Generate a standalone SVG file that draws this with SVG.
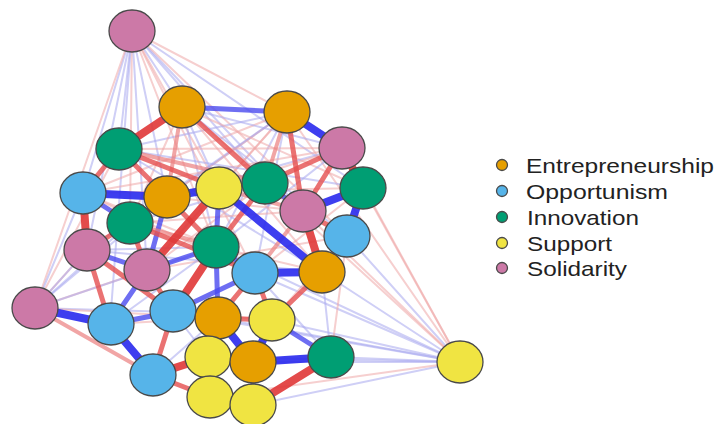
<svg xmlns="http://www.w3.org/2000/svg" width="717" height="424" viewBox="0 0 717 424">
<style>
line{stroke-linecap:round}
.p1{stroke:#f0a8a8;stroke-width:2;opacity:.55}
.b1{stroke:#a8a8f0;stroke-width:2;opacity:.55}
.p2{stroke:#ec8080;stroke-width:4;opacity:.7}
.r3{stroke:#e65050;stroke-width:5;opacity:.8}
.b3{stroke:#4a4af0;stroke-width:5;opacity:.8}
.r6{stroke:#e03838;stroke-width:8;opacity:.9}
.b6{stroke:#2a2aee;stroke-width:8;opacity:.9}
.n{stroke:#4a4a4a;stroke-width:1.3}
.E{fill:#E69F00}.O{fill:#56B4E9}.I{fill:#009E73}.S{fill:#F0E442}.L{fill:#CC79A7}
.lg{font-family:"Liberation Sans",Arial,sans-serif;font-size:21px;fill:#222}
</style>
<rect width="717" height="424" fill="#fff"/>
<g id="connectors">
<g id="faint">
<line class="b1" x1="132" y1="31" x2="182" y2="107"/>
<line class="p1" x1="132" y1="31" x2="287" y2="112"/>
<line class="b1" x1="132" y1="31" x2="119" y2="149"/>
<line class="b1" x1="132" y1="31" x2="83" y2="193"/>
<line class="b1" x1="132" y1="31" x2="167" y2="197"/>
<line class="p1" x1="132" y1="31" x2="219" y2="188"/>
<line class="b1" x1="132" y1="31" x2="265" y2="183"/>
<line class="p1" x1="132" y1="31" x2="130" y2="223"/>
<line class="b1" x1="132" y1="31" x2="87" y2="250"/>
<line class="p1" x1="132" y1="31" x2="216" y2="247"/>
<line class="b1" x1="132" y1="31" x2="147" y2="270"/>
<line class="p1" x1="132" y1="31" x2="255" y2="273"/>
<line class="p1" x1="132" y1="31" x2="35" y2="308"/>
<line class="b1" x1="132" y1="31" x2="303" y2="211"/>
<line class="b1" x1="132" y1="31" x2="363" y2="188"/>
<line class="p1" x1="132" y1="31" x2="347" y2="236"/>
<line class="b1" x1="132" y1="31" x2="110" y2="324"/>
<line class="p1" x1="460" y1="362" x2="287" y2="112"/>
<line class="p1" x1="460" y1="362" x2="342" y2="148"/>
<line class="p1" x1="460" y1="362" x2="363" y2="188"/>
<line class="b1" x1="460" y1="362" x2="347" y2="236"/>
<line class="p1" x1="460" y1="362" x2="303" y2="211"/>
<line class="b1" x1="460" y1="362" x2="322" y2="272"/>
<line class="b1" x1="460" y1="362" x2="255" y2="273"/>
<line class="p1" x1="460" y1="362" x2="265" y2="183"/>
<line class="b1" x1="460" y1="362" x2="216" y2="247"/>
<line class="b1" x1="460" y1="362" x2="272" y2="320"/>
<line class="b1" x1="460" y1="362" x2="218" y2="318"/>
<line class="b1" x1="460" y1="362" x2="331" y2="357"/>
<line class="b1" x1="460" y1="362" x2="253" y2="362"/>
<line class="b1" x1="460" y1="362" x2="253" y2="405"/>
<line class="p1" x1="460" y1="362" x2="210" y2="397"/>
<line class="b1" x1="460" y1="362" x2="173" y2="312"/>
<line class="b1" x1="460" y1="362" x2="208" y2="357"/>
<line class="p1" x1="35" y1="308" x2="119" y2="149"/>
<line class="b1" x1="35" y1="308" x2="83" y2="193"/>
<line class="b1" x1="35" y1="308" x2="130" y2="223"/>
<line class="p1" x1="35" y1="308" x2="87" y2="250"/>
<line class="p1" x1="35" y1="308" x2="147" y2="270"/>
<line class="b1" x1="35" y1="308" x2="167" y2="197"/>
<line class="b1" x1="35" y1="308" x2="173" y2="312"/>
<line class="p1" x1="35" y1="308" x2="218" y2="318"/>
<line class="b1" x1="35" y1="308" x2="216" y2="247"/>
<line class="b1" x1="287" y1="112" x2="119" y2="149"/>
<line class="p1" x1="287" y1="112" x2="83" y2="193"/>
<line class="b1" x1="287" y1="112" x2="167" y2="197"/>
<line class="p1" x1="287" y1="112" x2="130" y2="223"/>
<line class="b1" x1="287" y1="112" x2="87" y2="250"/>
<line class="p1" x1="287" y1="112" x2="147" y2="270"/>
<line class="b1" x1="287" y1="112" x2="216" y2="247"/>
<line class="p1" x1="287" y1="112" x2="219" y2="188"/>
<line class="b1" x1="287" y1="112" x2="255" y2="273"/>
<line class="p1" x1="182" y1="107" x2="303" y2="211"/>
<line class="b1" x1="182" y1="107" x2="347" y2="236"/>
<line class="p1" x1="182" y1="107" x2="363" y2="188"/>
<line class="b1" x1="182" y1="107" x2="342" y2="148"/>
<line class="b1" x1="182" y1="107" x2="219" y2="188"/>
<line class="p1" x1="182" y1="107" x2="130" y2="223"/>
<line class="b1" x1="182" y1="107" x2="216" y2="247"/>
<line class="p1" x1="182" y1="107" x2="322" y2="272"/>
<line class="p1" x1="342" y1="148" x2="83" y2="193"/>
<line class="p1" x1="342" y1="148" x2="119" y2="149"/>
<line class="b1" x1="342" y1="148" x2="167" y2="197"/>
<line class="p1" x1="342" y1="148" x2="219" y2="188"/>
<line class="b1" x1="342" y1="148" x2="216" y2="247"/>
<line class="b1" x1="363" y1="188" x2="119" y2="149"/>
<line class="p1" x1="363" y1="188" x2="83" y2="193"/>
<line class="p1" x1="363" y1="188" x2="255" y2="273"/>
<line class="b1" x1="87" y1="250" x2="35" y2="308"/>
<line class="p1" x1="347" y1="236" x2="331" y2="357"/>
<line class="b1" x1="322" y1="272" x2="331" y2="357"/>
<line class="p1" x1="83" y1="193" x2="255" y2="273"/>
<line class="b1" x1="119" y1="149" x2="322" y2="272"/>
<line class="p1" x1="130" y1="223" x2="303" y2="211"/>
<line class="b1" x1="87" y1="250" x2="322" y2="272"/>
<line class="p1" x1="147" y1="270" x2="347" y2="236"/>
<line class="p1" x1="167" y1="197" x2="303" y2="211"/>
<line class="b1" x1="130" y1="223" x2="265" y2="183"/>
<line class="p1" x1="147" y1="270" x2="265" y2="183"/>
<line class="b1" x1="110" y1="324" x2="216" y2="247"/>
<line class="p1" x1="110" y1="324" x2="218" y2="318"/>
<line class="b1" x1="153" y1="375" x2="218" y2="318"/>
<line class="p1" x1="173" y1="312" x2="272" y2="320"/>
<line class="b1" x1="173" y1="312" x2="208" y2="357"/>
<line class="p1" x1="272" y1="320" x2="347" y2="236"/>
<line class="b1" x1="255" y1="273" x2="331" y2="357"/>
<line class="p1" x1="216" y1="247" x2="322" y2="272"/>
<line class="b1" x1="87" y1="250" x2="216" y2="247"/>
<line class="p1" x1="83" y1="193" x2="216" y2="247"/>
</g>
<g id="medium">
<line class="b3" x1="182" y1="107" x2="287" y2="112"/>
<line class="p2" x1="182" y1="107" x2="167" y2="197"/>
<line class="r3" x1="182" y1="107" x2="265" y2="183"/>
<line class="r3" x1="287" y1="112" x2="303" y2="211"/>
<line class="p2" x1="287" y1="112" x2="265" y2="183"/>
<line class="r3" x1="119" y1="149" x2="167" y2="197"/>
<line class="r3" x1="119" y1="149" x2="83" y2="193"/>
<line class="b3" x1="83" y1="193" x2="130" y2="223"/>
<line class="r3" x1="167" y1="197" x2="130" y2="223"/>
<line class="b3" x1="167" y1="197" x2="147" y2="270"/>
<line class="r3" x1="219" y1="188" x2="265" y2="183"/>
<line class="b3" x1="219" y1="188" x2="216" y2="247"/>
<line class="b3" x1="265" y1="183" x2="303" y2="211"/>
<line class="r3" x1="342" y1="148" x2="303" y2="211"/>
<line class="r3" x1="303" y1="211" x2="347" y2="236"/>
<line class="b3" x1="347" y1="236" x2="322" y2="272"/>
<line class="r3" x1="265" y1="183" x2="216" y2="247"/>
<line class="b3" x1="216" y1="247" x2="255" y2="273"/>
<line class="b3" x1="255" y1="273" x2="173" y2="312"/>
<line class="b3" x1="87" y1="250" x2="147" y2="270"/>
<line class="r3" x1="87" y1="250" x2="130" y2="223"/>
<line class="r3" x1="130" y1="223" x2="147" y2="270"/>
<line class="r3" x1="147" y1="270" x2="173" y2="312"/>
<line class="b3" x1="147" y1="270" x2="110" y2="324"/>
<line class="p2" x1="35" y1="308" x2="153" y2="375"/>
<line class="b3" x1="110" y1="324" x2="173" y2="312"/>
<line class="r3" x1="173" y1="312" x2="153" y2="375"/>
<line class="r3" x1="218" y1="318" x2="272" y2="320"/>
<line class="b3" x1="253" y1="362" x2="253" y2="405"/>
<line class="b3" x1="272" y1="320" x2="331" y2="357"/>
<line class="r3" x1="153" y1="375" x2="210" y2="397"/>
<line class="b3" x1="210" y1="397" x2="253" y2="405"/>
<line class="r3" x1="322" y1="272" x2="272" y2="320"/>
<line class="r3" x1="255" y1="273" x2="218" y2="318"/>
<line class="r3" x1="255" y1="273" x2="272" y2="320"/>
<line class="b3" x1="216" y1="247" x2="218" y2="318"/>
<line class="p2" x1="130" y1="223" x2="216" y2="247"/>
<line class="p2" x1="119" y1="149" x2="265" y2="183"/>
<line class="r3" x1="119" y1="149" x2="219" y2="188"/>
<line class="r3" x1="342" y1="148" x2="265" y2="183"/>
<line class="p2" x1="219" y1="188" x2="303" y2="211"/>
<line class="r3" x1="87" y1="250" x2="173" y2="312"/>
<line class="b3" x1="216" y1="247" x2="147" y2="270"/>
<line class="p2" x1="303" y1="211" x2="255" y2="273"/>
<line class="r3" x1="167" y1="197" x2="216" y2="247"/>
<line class="r3" x1="130" y1="223" x2="255" y2="273"/>
<line class="r3" x1="87" y1="250" x2="110" y2="324"/>
</g>
<g id="strong">
<line class="r6" x1="182" y1="107" x2="119" y2="149"/>
<line class="b6" x1="287" y1="112" x2="342" y2="148"/>
<line class="b6" x1="83" y1="193" x2="167" y2="197"/>
<line class="r6" x1="83" y1="193" x2="87" y2="250"/>
<line class="b6" x1="167" y1="197" x2="219" y2="188"/>
<line class="r6" x1="219" y1="188" x2="147" y2="270"/>
<line class="b6" x1="219" y1="188" x2="322" y2="272"/>
<line class="r6" x1="342" y1="148" x2="363" y2="188"/>
<line class="b6" x1="363" y1="188" x2="303" y2="211"/>
<line class="b6" x1="363" y1="188" x2="347" y2="236"/>
<line class="r6" x1="303" y1="211" x2="322" y2="272"/>
<line class="b6" x1="255" y1="273" x2="322" y2="272"/>
<line class="r6" x1="216" y1="247" x2="173" y2="312"/>
<line class="b6" x1="35" y1="308" x2="110" y2="324"/>
<line class="b6" x1="110" y1="324" x2="153" y2="375"/>
<line class="b6" x1="173" y1="312" x2="218" y2="318"/>
<line class="b6" x1="218" y1="318" x2="208" y2="357"/>
<line class="b6" x1="218" y1="318" x2="253" y2="362"/>
<line class="b6" x1="208" y1="357" x2="253" y2="362"/>
<line class="b6" x1="208" y1="357" x2="210" y2="397"/>
<line class="b6" x1="253" y1="362" x2="331" y2="357"/>
<line class="b6" x1="272" y1="320" x2="253" y2="362"/>
<line class="r6" x1="253" y1="405" x2="331" y2="357"/>
<line class="r6" x1="208" y1="357" x2="153" y2="375"/>
</g>
</g>
<g id="nodes">
<g id="n1"><ellipse class="n L" cx="132" cy="31" rx="23" ry="21"/></g>
<g id="n2"><ellipse class="n E" cx="182" cy="107" rx="23" ry="21"/></g>
<g id="n3"><ellipse class="n E" cx="287" cy="112" rx="23" ry="21"/></g>
<g id="n4"><ellipse class="n I" cx="119" cy="149" rx="23" ry="21"/></g>
<g id="n5"><ellipse class="n L" cx="342" cy="148" rx="23" ry="21"/></g>
<g id="n6"><ellipse class="n O" cx="83" cy="193" rx="23" ry="21"/></g>
<g id="n7"><ellipse class="n E" cx="167" cy="197" rx="23" ry="21"/></g>
<g id="n8"><ellipse class="n S" cx="219" cy="188" rx="23" ry="21"/></g>
<g id="n9"><ellipse class="n I" cx="265" cy="183" rx="23" ry="21"/></g>
<g id="n10"><ellipse class="n I" cx="363" cy="188" rx="23" ry="21"/></g>
<g id="n11"><ellipse class="n I" cx="130" cy="223" rx="23" ry="21"/></g>
<g id="n12"><ellipse class="n L" cx="303" cy="211" rx="23" ry="21"/></g>
<g id="n13"><ellipse class="n O" cx="347" cy="236" rx="23" ry="21"/></g>
<g id="n14"><ellipse class="n L" cx="87" cy="250" rx="23" ry="21"/></g>
<g id="n15"><ellipse class="n I" cx="216" cy="247" rx="23" ry="21"/></g>
<g id="n16"><ellipse class="n L" cx="147" cy="270" rx="23" ry="21"/></g>
<g id="n17"><ellipse class="n O" cx="255" cy="273" rx="23" ry="21"/></g>
<g id="n18"><ellipse class="n E" cx="322" cy="272" rx="23" ry="21"/></g>
<g id="n19"><ellipse class="n L" cx="35" cy="308" rx="23" ry="21"/></g>
<g id="n20"><ellipse class="n O" cx="111" cy="324" rx="23" ry="21"/></g>
<g id="n21"><ellipse class="n O" cx="173" cy="311" rx="23" ry="21"/></g>
<g id="n22"><ellipse class="n E" cx="218" cy="318" rx="23" ry="21"/></g>
<g id="n23"><ellipse class="n S" cx="272" cy="320" rx="23" ry="21"/></g>
<g id="n24"><ellipse class="n S" cx="208" cy="357" rx="23" ry="21"/></g>
<g id="n25"><ellipse class="n E" cx="253" cy="362" rx="23" ry="21"/></g>
<g id="n26"><ellipse class="n I" cx="331" cy="357" rx="23" ry="21"/></g>
<g id="n27"><ellipse class="n O" cx="153" cy="375" rx="23" ry="21"/></g>
<g id="n28"><ellipse class="n S" cx="210" cy="397" rx="23" ry="21"/></g>
<g id="n29"><ellipse class="n S" cx="253" cy="405" rx="23" ry="21"/></g>
<g id="n30"><ellipse class="n S" cx="460" cy="362" rx="23" ry="21"/></g>
</g>
<g id="legend">
<circle class="n E" cx="502" cy="165" r="5.5"/>
<circle class="n O" cx="502" cy="191" r="5.5"/>
<circle class="n I" cx="502" cy="217" r="5.5"/>
<circle class="n S" cx="502" cy="243" r="5.5"/>
<circle class="n L" cx="502" cy="268" r="5.5"/>
<text class="lg" x="526" y="173" textLength="188" lengthAdjust="spacingAndGlyphs">Entrepreneurship</text>
<text class="lg" x="526" y="199" textLength="142" lengthAdjust="spacingAndGlyphs">Opportunism</text>
<text class="lg" x="527" y="225" textLength="112" lengthAdjust="spacingAndGlyphs">Innovation</text>
<text class="lg" x="527" y="251" textLength="85" lengthAdjust="spacingAndGlyphs">Support</text>
<text class="lg" x="527" y="276" textLength="100" lengthAdjust="spacingAndGlyphs">Solidarity</text>
</g>
</svg>
